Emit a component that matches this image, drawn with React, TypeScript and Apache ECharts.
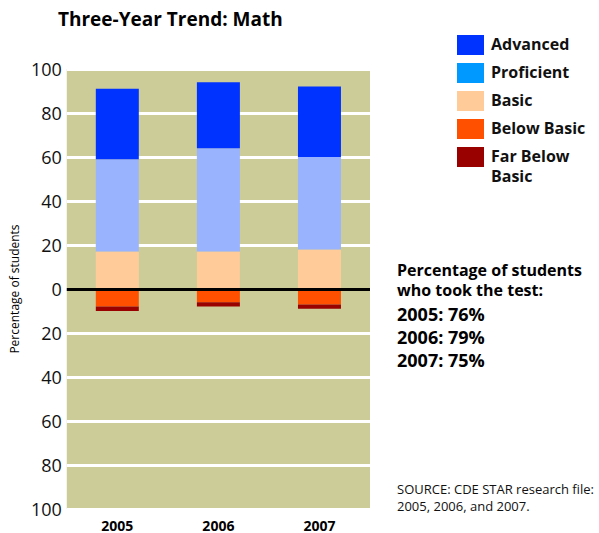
import React, { useEffect, useRef } from "react";
import * as echarts from "echarts";

const years = ["2005", "2006", "2007"];
const advanced = [32, 30, 32];
const proficient = [42, 47, 42];
const basic = [17, 17, 18];
const belowBasic = [-8, -6, -7];
const farBelowBasic = [-2, -2, -2];
const yTicks = { min: -100, max: 100, interval: 20 };
const legendItems = [
  { name: "Advanced", color: "#0033ff" },
  { name: "Proficient", color: "#0099ff" },
  { name: "Basic", color: "#ffcc99" },
  { name: "Below Basic", color: "#ff5000" },
  { name: "Far Below\nBasic", color: "#990000" },
];
const tookTest = ["2005: 76%", "2006: 79%", "2007: 75%"];

const FONT = "'Open Sans', 'Noto Sans', sans-serif";

export default function App() {
  const ref = useRef<HTMLDivElement>(null);
  useEffect(() => {
    if (!ref.current) return;
    const chart = echarts.init(ref.current, null, { renderer: "svg" });
    const barBase = {
      type: "bar",
      stack: "total",
      barWidth: 43,
      silent: true,
    };
    const graphic: any[] = [];
    legendItems.forEach((it, i) => {
      const y = 35 + i * 28;
      graphic.push({
        type: "rect",
        shape: { x: 457, y, width: 27, height: 20 },
        style: { fill: it.color },
      });
      graphic.push({
        type: "text",
        x: 491,
        y: y - 1,
        style: {
          text: it.name,
          fill: "#111",
          font: `bold 16px ${FONT}`,
          lineHeight: 20,
          textVerticalAlign: "top",
        },
      });
    });
    graphic.push({
      type: "text",
      x: 397,
      y: 260,
      style: {
        text: "Percentage of students\nwho took the test:",
        fill: "#000",
        font: `bold 16px ${FONT}`,
        lineHeight: 20,
      },
    });
    graphic.push({
      type: "text",
      x: 397,
      y: 302,
      style: {
        text: tookTest.join("\n"),
        fill: "#000",
        font: `bold 18px ${FONT}`,
        lineHeight: 23,
      },
    });
    graphic.push({
      type: "text",
      x: 397,
      y: 480,
      style: {
        text: "SOURCE: CDE STAR research file:\n2005, 2006, and 2007.",
        fill: "#111",
        font: `13px ${FONT}`,
        lineHeight: 17,
      },
    });

    chart.setOption({
      animation: false,
      title: {
        text: "Three-Year Trend: Math",
        left: 53,
        top: 4,
        textStyle: { fontFamily: FONT, fontWeight: "bold", fontSize: 19, color: "#000" },
      },
      grid: {
        left: 65,
        right: 229,
        top: 69,
        bottom: 24,
        show: true,
        backgroundColor: "#cccc99",
        borderWidth: 0,
      },
      xAxis: {
        type: "category",
        data: years,
        axisLine: { show: false },
        axisTick: { show: false },
        axisLabel: { fontFamily: FONT, fontWeight: "bold", fontSize: 14, color: "#000", margin: 9 },
      },
      yAxis: {
        type: "value",
        min: yTicks.min,
        max: yTicks.max,
        interval: yTicks.interval,
        name: "Percentage of students",
        nameLocation: "middle",
        nameRotate: 90,
        nameGap: 41,
        nameTextStyle: { fontFamily: FONT, fontSize: 12, color: "#000" },
        axisLine: { show: false },
        axisTick: { show: false },
        axisLabel: {
          fontFamily: FONT,
          fontSize: 18,
          color: "#111",
          margin: 5,
          formatter: (v: number) => String(Math.abs(v)),
        },
        splitLine: { show: true, lineStyle: { color: "#ffffff", width: 3 } },
      },
      graphic,
      series: [
        { ...barBase, name: "Basic", data: basic, itemStyle: { color: "#ffcc99" } },
        { ...barBase, name: "Proficient", data: proficient, itemStyle: { color: "#99b3ff" } },
        { ...barBase, name: "Advanced", data: advanced, itemStyle: { color: "#0033ff" } },
        {
          ...barBase,
          name: "Below Basic",
          data: belowBasic,
          itemStyle: { color: "#ff5000" },
          markLine: {
            silent: true,
            symbol: "none",
            label: { show: false },
            lineStyle: { color: "#000", width: 3, type: "solid" },
            data: [{ yAxis: 0 }],
          },
        },
        { ...barBase, name: "Far Below Basic", data: farBelowBasic, itemStyle: { color: "#990000" } },
      ],
    });
    return () => chart.dispose();
  }, []);
  return (
    <div
      ref={ref}
      style={{ position: "absolute", left: 0, top: 0, width: 599, height: 533 }}
    />
  );
}
